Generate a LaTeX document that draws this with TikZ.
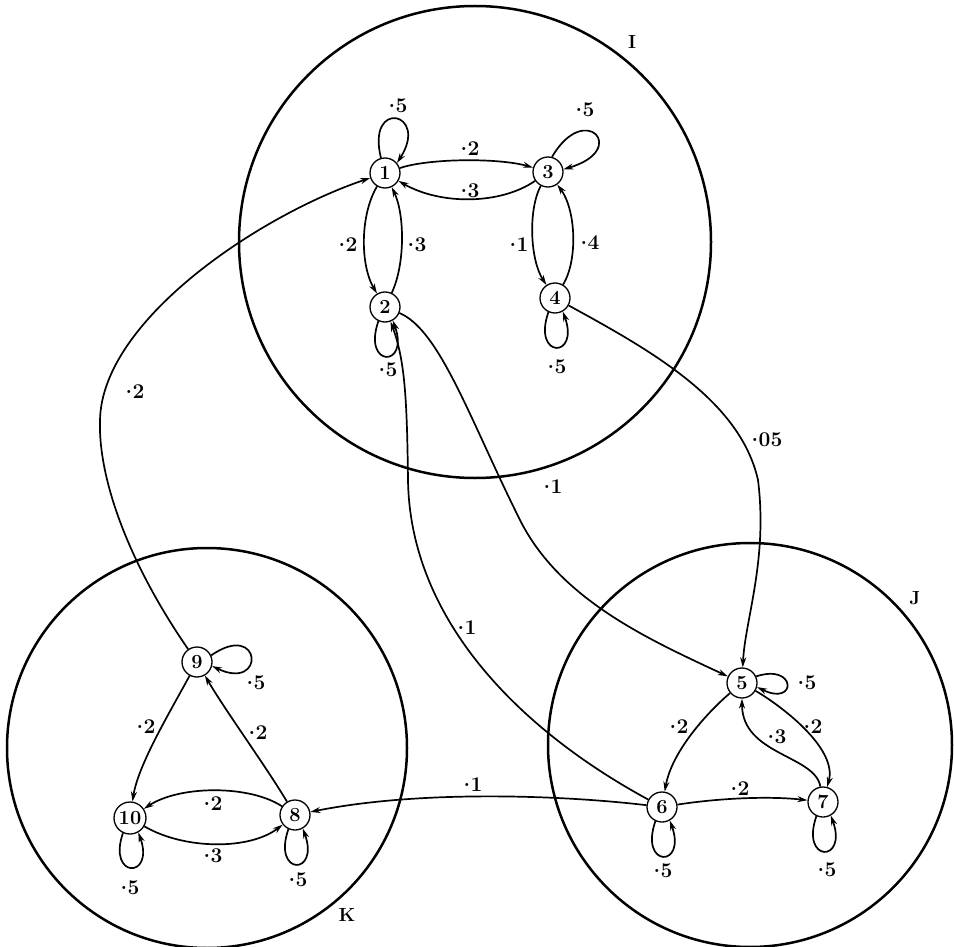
\documentclass[tikz,border=0pt]{standalone}
\usetikzlibrary{arrows.meta}
\newcommand{\pdot}{\raisebox{0.26em}{.}\kern0.02em}
\begin{document}
\begin{tikzpicture}[x=1pt,y=-1pt,
  st/.style={circle,draw,line width=1.3pt,minimum size=30pt,inner sep=0pt,font=\fontsize{20}{20}\selectfont\bfseries},
  ed/.style={line width=1.7pt,-{Stealth[length=10pt,width=6pt]}},
  lp/.style={font=\fontsize{21}{21}\selectfont\bfseries,inner sep=0pt},
  gl/.style={font=\fontsize{19}{19}\selectfont\bfseries,inner sep=0pt},
  bigc/.style={line width=2.5pt}]
\useasboundingbox (0,0) rectangle (954,947);
% big circles
\draw[bigc] (475,242) circle[radius=236pt];
\draw[bigc] (207,748) circle[radius=200pt];
\draw[bigc] (750,745) circle[radius=202pt];
\node[gl] (gI) at (632,42) {I};
\node[gl] (gJ) at (915,598) {J};
\node[gl] (gK) at (347,915) {K};
% states
\node[st] (n1) at (385,173) {1};
\node[st] (n2) at (385,307) {2};
\node[st] (n3) at (548,172) {3};
\node[st] (n4) at (555,298) {4};
\node[st] (n5) at (742,683) {5};
\node[st] (n6) at (662,807) {6};
\node[st] (n7) at (823,802) {7};
\node[st] (n8) at (295,815) {8};
\node[st] (n9) at (197,662) {9};
\node[st,minimum size=32pt] (n10) at (130,818) {10};
% loops
\draw[ed] (n1.105) .. controls (366,98) and (430,112) .. (n1.40);
\draw[ed] (n3.75) .. controls (585,100) and (630,150) .. (n3.10);
\draw[ed] (n2.245) .. controls (362,368) and (410,368) .. (n2.300);
\draw[ed] (n4.245) .. controls (532,359) and (580,359) .. (n4.300);
\draw[ed] (n10.245) .. controls (107,879) and (155,879) .. (n10.300);
\draw[ed] (n8.245) .. controls (272,876) and (320,876) .. (n8.300);
\draw[ed] (n6.245) .. controls (639,868) and (687,868) .. (n6.300);
\draw[ed] (n7.245) .. controls (800,863) and (848,863) .. (n7.300);
\draw[ed] (n9.25) .. controls (262,620) and (266,692) .. (n9.-15);
\draw[ed] (n5.25) .. controls (797,663) and (797,707) .. (n5.-15);
% edges in I
\draw[ed] (n1) .. controls (430,158) and (500,158) .. (n3);
\draw[ed] (n3) .. controls (500,205) and (440,205) .. (n1);
\draw[ed] (n1) .. controls (360,215) and (360,265) .. (n2);
\draw[ed] (n2) .. controls (405,265) and (405,215) .. (n1);
\draw[ed] (n3) .. controls (528,210) and (530,260) .. (n4);
\draw[ed] (n4) .. controls (578,260) and (576,210) .. (n3);
% edges in K
\draw[ed] (n9) .. controls (170,712) and (138,765) .. (n10);
\draw[ed] (n8) .. controls (265,765) and (225,710) .. (n9);
\draw[ed] (n8) .. controls (250,785) and (180,785) .. (n10);
\draw[ed] (n10) .. controls (185,850) and (250,850) .. (n8);
% edges in J
\draw[ed] (n5) .. controls (710,710) and (672,750) .. (n6);
\draw[ed] (n5) .. controls (780,705) and (838,748) .. (n7);
\draw[ed] (n7) .. controls (815,755) and (742,755) .. (n5);
\draw[ed] (n6) .. controls (720,798) and (770,796) .. (n7);
% cross edges
\coordinate (a1) at (100,420);
\draw[ed] (n9) .. controls (130,565) and (98,480) .. (a1) .. controls (102,320) and (260,215) .. (n1);
\coordinate (a2) at (520,520);
\draw[ed] (n2) .. controls (440,330) and (470,420) .. (a2) .. controls (560,600) and (650,640) .. (n5);
\coordinate (a3) at (408,480);
\draw[ed] (n6) .. controls (520,730) and (410,620) .. (a3) .. controls (407,400) and (405,360) .. (n2);
\coordinate (a4) at (758,480);
\draw[ed] (n4) .. controls (650,350) and (740,400) .. (a4) .. controls (768,560) and (745,620) .. (n5);
\draw[ed] (n6) .. controls (560,795) and (420,790) .. (n8);
% labels
\node[lp] (l1) at (398,106) {\pdot5};
\node[lp] (l2) at (470,149) {\pdot2};
\node[lp] (l3) at (470,191) {\pdot3};
\node[lp] (l4) at (348,245) {\pdot2};
\node[lp] (l5) at (417,245) {\pdot3};
\node[lp] (l6) at (519,245) {\pdot1};
\node[lp] (l7) at (590,243) {\pdot4};
\node[lp] (l8) at (585,110) {\pdot5};
\node[lp] (l9) at (388,370) {\pdot5};
\node[lp] (l10) at (557,367) {\pdot5};
\node[lp] (l11) at (135,392) {\pdot2};
\node[lp] (l12) at (553,487) {\pdot1};
\node[lp] (l13) at (467,628) {\pdot1};
\node[lp] (l14) at (767,440) {\pdot05};
\node[lp] (l15) at (473,785) {\pdot1};
\node[lp] (l16) at (146,727) {\pdot2};
\node[lp] (l17) at (258,733) {\pdot2};
\node[lp] (l18) at (213,804) {\pdot2};
\node[lp] (l19) at (213,856) {\pdot3};
\node[lp] (l20) at (256,683) {\pdot5};
\node[lp] (l21) at (130,888) {\pdot5};
\node[lp] (l22) at (298,880) {\pdot5};
\node[lp] (l23) at (679,727) {\pdot2};
\node[lp] (l24) at (813,727) {\pdot2};
\node[lp] (l25) at (777,737) {\pdot3};
\node[lp] (l26) at (740,789) {\pdot2};
\node[lp] (l27) at (807,683) {\pdot5};
\node[lp] (l28) at (663,871) {\pdot5};
\node[lp] (l29) at (827,870) {\pdot5};
\end{tikzpicture}
\end{document}
